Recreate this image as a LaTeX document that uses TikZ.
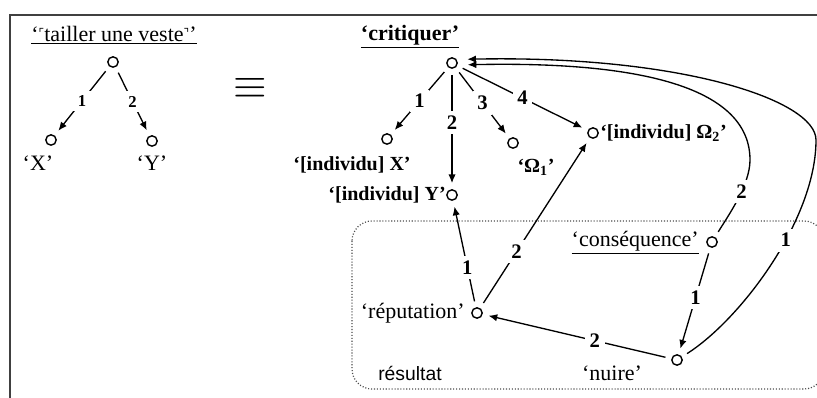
\documentclass[tikz,border=0pt]{standalone}
\usepackage{graphicx}
\usepackage{fontspec}
\setmainfont{Liberation Serif}
\setsansfont{Liberation Sans}
\newfontfamily\dejavu{DejaVu Sans}
\usetikzlibrary{arrows.meta}
\begin{document}
\begin{tikzpicture}[x=0.75pt,y=-0.75pt,
  pt/.style={circle,draw,line width=1.05pt,minimum size=7.8pt,inner sep=0pt,outer sep=5pt},
  arr/.style={line width=1pt,-{Latex[length=6.5pt,width=5.5pt]}},
  numL/.style={fill=white,inner sep=3.5pt,font=\fontsize{12.5}{12.5}\selectfont\bfseries},
  numR/.style={fill=white,inner sep=3.5pt,font=\fontsize{15.5}{15.5}\selectfont\bfseries},
  lab/.style={font=\fontsize{16.5}{18}\selectfont,inner sep=0pt},
  blab/.style={font=\fontsize{15}{17}\selectfont\bfseries,inner sep=0pt},
  frame/.style={line width=1.5pt,black!75},
  zone/.style={line width=0.9pt,black!70,dash pattern=on 0.8pt off 1.4pt,rounded corners=15pt}
]
\useasboundingbox (0,0) rectangle (817,398);
% frame
\draw[frame] (10,398) -- (10,15) -- (817,15);
% zone
\draw[zone] (352,221) rectangle (824,389);

% left tree
\node[lab] (ttl) at (114,35) {\underline{‘\raisebox{.35ex}{\dejavu\fontsize{9}{9}\selectfont ⌜}tailler une veste\raisebox{.35ex}{\dejavu\fontsize{9}{9}\selectfont ⌝}’}};
\node[pt] (lr) at (113,62) {};
\node[pt] (lx) at (51,140) {};
\node[pt] (ly) at (152,141) {};
\node[lab] (lxl) at (38,163) {‘X’};
\node[lab] (lyl) at (152,163) {‘Y’};
\draw[arr] (lr) -- node[numL]{1} (lx);
\draw[arr] (lr) -- node[numL]{2} (ly);

% equivalence
\node[inner sep=0pt] (eq) at (250,89) {\scalebox{1.3}{\fontsize{24.88}{25}\selectfont$\equiv$}};

% right tree
\node[font=\fontsize{16.5}{18}\selectfont\bfseries,inner sep=0pt] (crit) at (410,37) {\underline{‘critiquer’}};
\node[pt] (R) at (452,63) {};
\node[pt] (rx) at (387,139) {};
\node[pt] (ry) at (452,195) {};
\node[pt] (o1) at (513,143) {};
\node[pt] (o2) at (593,133) {};
\node[blab] (rxl) at (352,165) {‘[individu] X’};
\node[blab,anchor=east] (ryl) at (446,195) {‘[individu] Y’};
\node[blab] (o1l) at (536,167) {‘Ω\textsubscript{1}’};
\node[blab,anchor=west] (o2l) at (600,133) {‘[individu] Ω\textsubscript{2}’};
\draw[arr] (R) -- node[numR]{1} (rx);
\draw[arr] (R) -- node[numR,pos=0.44]{2} (ry);
\draw[arr] (R) -- node[numR]{3} (o1);
\draw[arr] (R) -- node[numR]{4} (o2);

% lower part
\node[pt] (rep) at (477,313) {};
\node[pt] (cons) at (712,242) {};
\node[pt] (nui) at (677,360) {};
\node[lab,anchor=east] (repl) at (465,313) {‘réputation’};
\node[lab,anchor=east] (consl) at (699,243) {\underline{‘conséquence’}};
\node[lab] (nuil) at (612,373) {‘nuire’};
\node[font=\sffamily\fontsize{14.5}{16}\selectfont,inner sep=0pt] (res) at (410,373) {résultat};

\draw[arr] (rep) -- node[numR,pos=0.36]{1} (ry);
\draw[arr] (rep) -- node[numR,pos=0.32]{2} (o2);
\draw[arr] (nui) -- node[numR,pos=0.40]{2} (rep);
\draw[arr] (cons) -- node[numR,pos=0.46]{1} (nui);

% long curves
\coordinate (c2) at (750,160);
\coordinate (c1) at (816,140);
\draw[arr,shorten >=3pt] (cons) .. controls (728,216) and (750,185) .. node[numR,pos=0.6]{2} (c2)
   .. controls (750,75) and (600,62) .. (R.-9);
\draw[arr,shorten >=3pt] (nui) .. controls (740,320) and (816,220) .. node[numR,pos=0.6]{1} (c1)
   .. controls (816,100) and (680,55) .. (R.18);
\end{tikzpicture}
\end{document}
